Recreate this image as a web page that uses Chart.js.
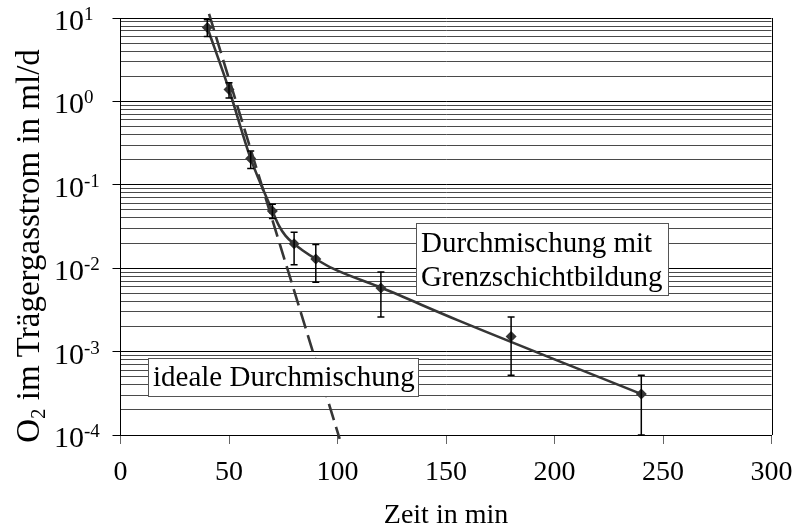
<!DOCTYPE html>
<html>
<head>
<meta charset="utf-8">
<script src="https://cdn.jsdelivr.net/npm/chart.js@4.4.1/dist/chart.umd.min.js"></script>
<style>
  html, body { margin: 0; padding: 0; background: #fff; }
  #wrap { width: 797px; height: 531px; }
</style>
</head>
<body>
<div id="wrap"><canvas id="chart" width="797" height="531"></canvas></div>
<script>
// measured values (Zeit in min / O2 in ml/d)
const timeMin = [40, 50, 60, 70, 80, 90, 120, 180, 240];
const o2Measured = [7.7, 1.39, 0.206, 0.0486, 0.0196, 0.0129, 0.0058, 0.00152, 0.00031];
const errUpper = [9.5, 1.67, 0.254, 0.0585, 0.027, 0.0192, 0.009, 0.0026, 0.00052];
const errLower = [6.0, 1.1, 0.157, 0.0394, 0.011, 0.0068, 0.0026, 0.00052, 0.0001];

// fitted curve "Durchmischung mit Grenzschichtbildung"
const fitX = [40, 50, 60, 70, 73, 76, 80, 84, 90, 97.5, 120.5, 155.6, 240];
const fitY = [7.7, 1.39, 0.206, 0.0486, 0.0324, 0.0246, 0.0196, 0.0163, 0.0129, 0.0100, 0.00578, 0.00237, 0.00031];

// "ideale Durchmischung"
const idealX = [40.8, 101];
const idealY = [11.2, 0.00009];

const xTicks = [0, 50, 100, 150, 200, 250, 300];
const yExponents = [-4, -3, -2, -1, 0, 1];

const serif = "'Liberation Serif', 'Times New Roman', serif";
const lineColor = '#363636';

function isDecade(v) {
  const l = Math.log10(v);
  return Math.abs(l - Math.round(l)) < 1e-9;
}

// error bars, axis labels with exponents, text boxes
const extras = {
  id: 'extras',
  afterDatasetsDraw(chart) {
    const c = chart.ctx;
    const xs = chart.scales.x, ys = chart.scales.y;
    c.save();
    c.strokeStyle = '#000';
    c.lineWidth = 1.5;
    timeMin.forEach((t, i) => {
      const px = xs.getPixelForValue(t);
      const top = ys.getPixelForValue(errUpper[i]);
      const bot = ys.getPixelForValue(errLower[i]);
      c.beginPath();
      c.moveTo(px, top); c.lineTo(px, bot);
      c.moveTo(px - 3.5, top); c.lineTo(px + 3.5, top);
      c.moveTo(px - 3.5, bot); c.lineTo(px + 3.5, bot);
      c.stroke();
    });
    c.restore();
  },
  afterDraw(chart) {
    const c = chart.ctx;
    const a = chart.chartArea;
    const ys = chart.scales.y;
    c.save();
    // right border
    c.strokeStyle = '#000';
    c.lineWidth = 1;
    c.beginPath();
    c.moveTo(Math.round(a.right) + 0.5, a.top);
    c.lineTo(Math.round(a.right) + 0.5, a.bottom);
    c.stroke();

    // y tick labels 10^n
    c.fillStyle = '#000';
    c.textAlign = 'left';
    yExponents.forEach(e => {
      const py = ys.getPixelForValue(Math.pow(10, e));
      c.font = '30px ' + serif;
      c.textBaseline = 'alphabetic';
      c.fillText('10', 54, py + 12);
      const w = c.measureText('10').width;
      c.font = '19px ' + serif;
      c.fillText(String(e), 54 + w, py + 2);
    });

    // x axis title
    c.font = '28px ' + serif;
    c.textAlign = 'center';
    c.textBaseline = 'middle';
    c.fillText('Zeit in min', (a.left + a.right) / 2, 516);

    // y axis title with subscript
    c.textAlign = 'left';
    c.translate(30, 246);
    c.rotate(-Math.PI / 2);
    c.textBaseline = 'middle';
    const big = '33px ' + serif, small = '21px ' + serif;
    c.font = big;
    const w1 = c.measureText('O').width;
    const rest = ' im Trägergasstrom in ml/d';
    const w3 = c.measureText(rest).width;
    c.font = small;
    const w2 = c.measureText('2').width;
    let x0 = -(w1 + w2 + w3) / 2;
    c.font = big;
    c.fillText('O', x0, 0);
    c.font = small;
    c.fillText('2', x0 + w1, 9);
    c.font = big;
    c.fillText(rest, x0 + w1 + w2, 0);
    c.restore();

    // text boxes
    c.save();
    c.font = '29px ' + serif;
    c.fillStyle = '#fff';
    c.strokeStyle = '#555';
    c.lineWidth = 1;
    c.fillRect(416, 223, 252, 72);
    c.strokeRect(416.5, 223.5, 252, 72);
    c.fillRect(148, 358, 270, 38);
    c.strokeRect(148.5, 358.5, 270, 38);
    c.fillStyle = '#000';
    c.textBaseline = 'alphabetic';
    c.textAlign = 'left';
    c.fillText('Durchmischung mit', 421, 252);
    c.fillText('Grenzschichtbildung', 421, 286);
    c.fillText('ideale Durchmischung', 153, 386);
    c.restore();
  }
};

new Chart(document.getElementById('chart'), {
  type: 'scatter',
  data: {
    datasets: [
      {
        label: 'Durchmischung mit Grenzschichtbildung',
        data: fitX.map((x, i) => ({ x, y: fitY[i] })),
        showLine: true,
        borderColor: lineColor,
        borderWidth: 2.6,
        pointRadius: 0,
        cubicInterpolationMode: 'monotone'
      },
      {
        label: 'ideale Durchmischung',
        data: idealX.map((x, i) => ({ x, y: idealY[i] })),
        showLine: true,
        borderColor: lineColor,
        borderWidth: 2.6,
        borderDash: [17, 7],
        pointRadius: 0,
        clip: false
      },
      {
        label: 'Messwerte',
        data: timeMin.map((x, i) => ({ x, y: o2Measured[i] })),
        showLine: false,
        pointStyle: 'rectRot',
        pointRadius: 5.5,
        backgroundColor: lineColor,
        borderColor: lineColor,
        borderWidth: 0
      }
    ]
  },
  options: {
    responsive: false,
    animation: false,
    layout: { padding: { top: 18, right: 25.5, left: 0, bottom: 0 } },
    plugins: { legend: { display: false }, tooltip: { enabled: false } },
    scales: {
      x: {
        type: 'linear',
        min: 0,
        max: 300,
        afterBuildTicks: s => { s.ticks = xTicks.map(v => ({ value: v })); },
        afterFit: s => { s.height = 96; s.paddingLeft = 0; s.paddingRight = 0; },
        ticks: { color: '#000', font: { family: serif, size: 28 }, padding: 12, maxRotation: 0 },
        grid: { drawOnChartArea: false, drawTicks: true, tickLength: 9, color: '#666' },
        border: { color: '#000', width: 1 }
      },
      y: {
        type: 'logarithmic',
        min: 1e-4,
        max: 10,
        afterBuildTicks: s => {
          const t = [];
          yExponents.forEach(e => {
            for (let m = 1; m <= 9; m++) {
              const v = m * Math.pow(10, e);
              if (v <= 10.0000001) t.push({ value: v, major: m === 1 });
            }
          });
          s.ticks = t;
        },
        afterFit: s => { s.width = 120.5; s.paddingTop = 0; s.paddingBottom = 0; },
        ticks: { display: false },
        grid: {
          drawTicks: true,
          tickLength: 8,
          color: ctx => (ctx.tick && isDecade(ctx.tick.value)) ? '#000' : '#4a4a4a',
          tickColor: ctx => (ctx.tick && isDecade(ctx.tick.value)) ? '#000' : 'rgba(0,0,0,0)'
        },
        border: { color: '#000', width: 1 }
      }
    }
  },
  plugins: [extras]
});
</script>
</body>
</html>
